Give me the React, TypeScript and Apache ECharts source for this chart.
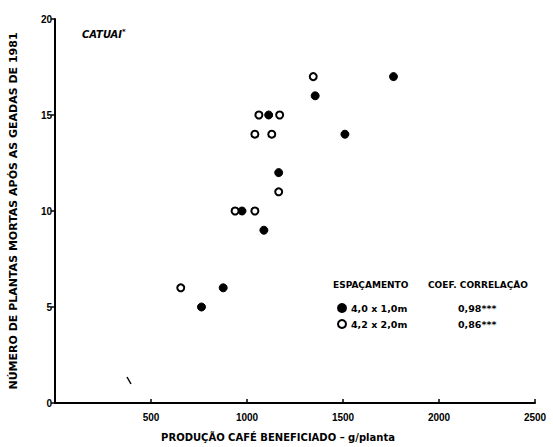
import React, { useEffect, useRef } from "react";
import * as echarts from "echarts";

const seriesNames = ["4,0 x 1,0m", "4,2 x 2,0m"];
const correlations = ["0,98***", "0,86***"];
// [production g/plant, dead plants]
const closeSpacing: [number, number][] = [
  [763, 5], [876, 6], [1088, 9], [974, 10], [1113, 15],
  [1165, 12], [1355, 16], [1510, 14], [1763, 17],
];
const wideSpacing: [number, number][] = [
  [655, 6], [938, 10], [1041, 10], [1062, 15], [1170, 15],
  [1041, 14], [1129, 14], [1165, 11], [1345, 17],
];
const xTitle = "PRODUÇÃO CAFÉ BENEFICIADO – g/planta";
const yTitle = "NÚMERO DE PLANTAS MORTAS APÓS AS GEADAS DE 1981";
const chartTitle = "CATUAI";
const legendHeader = "ESPAÇAMENTO";
const corrHeader = "COEF. CORRELAÇÃO";

const FONT = "'DejaVu Sans', 'Liberation Sans', Arial, sans-serif";
const FONT2 = "'Liberation Sans', Arial, sans-serif";

export default function App() {
  const ref = useRef<HTMLDivElement>(null);
  useEffect(() => {
    if (!ref.current) return;
    const chart = echarts.init(ref.current, null, { renderer: "svg" });
    chart.setOption({
      animation: false,
      backgroundColor: "#ffffff",
      textStyle: { fontFamily: FONT },
      grid: { left: 50, right: 18, top: 19, bottom: 42, containLabel: false },
      xAxis: {
        type: "value",
        min: 0,
        max: 2500,
        interval: 500,
        name: xTitle,
        nameLocation: "middle",
        nameGap: 29,
        nameTextStyle: {
          color: "#000",
          fontWeight: "bold",
          fontSize: 10,
          fontFamily: FONT,
          padding: [0, 34, 0, 0],
        },
        axisLine: { lineStyle: { color: "#000", width: 2 } },
        axisTick: { inside: true, length: 4, lineStyle: { color: "#000", width: 1.5 } },
        axisLabel: {
          color: "#000",
          fontWeight: "bold",
          fontSize: 10,
          margin: 9,
          fontFamily: FONT2,
          formatter: (v: number) => (v === 0 ? "" : String(v)),
        },
        splitLine: { show: false },
      },
      yAxis: {
        type: "value",
        min: 0,
        max: 20,
        interval: 5,
        name: yTitle,
        nameLocation: "middle",
        nameGap: 36,
        nameTextStyle: { color: "#000", fontWeight: "bold", fontSize: 11, fontFamily: FONT },
        axisLine: { lineStyle: { color: "#000", width: 2 } },
        axisTick: { inside: false, length: 4, lineStyle: { color: "#000", width: 1.5 } },
        axisLabel: { color: "#000", fontWeight: "bold", fontSize: 10, margin: 3, fontFamily: FONT2 },
        splitLine: { show: false },
      },
      legend: {
        orient: "vertical",
        left: 332,
        top: 298,
        itemWidth: 8,
        itemHeight: 8,
        itemGap: 6,
        icon: "circle",
        data: seriesNames,
        formatter: (name: string) => {
          const i = seriesNames.indexOf(name);
          return `{a|${name}}{b|${correlations[i]}}`;
        },
        textStyle: {
          color: "#000",
          fontWeight: "bold",
          fontSize: 9.5,
          fontFamily: FONT,
          rich: {
            a: { width: 107, color: "#000", fontWeight: "bold", fontSize: 9.5, fontFamily: FONT },
            b: { color: "#000", fontWeight: "bold", fontSize: 9.5, fontFamily: FONT },
          },
        },
      },
      graphic: [
        {
          type: "text",
          left: 82,
          top: 28,
          style: {
            text: "{t|" + chartTitle + "}{s|*}",
            rich: {
              t: { fontFamily: FONT, fontSize: 10, fontWeight: "bold", fontStyle: "italic", fill: "#000" },
              s: { fontFamily: FONT, fontSize: 7, fontWeight: "bold", fill: "#000", padding: [0, 0, 6, 0] },
            },
          },
        },
        {
          type: "text",
          left: 333,
          top: 280,
          style: { text: legendHeader, fontFamily: FONT, fontSize: 9, fontWeight: "bold", fill: "#000" },
        },
        {
          type: "text",
          left: 428,
          top: 280,
          style: { text: corrHeader, fontFamily: FONT, fontSize: 9, fontWeight: "bold", fill: "#000" },
        },
        {
          type: "line",
          shape: { x1: 127, y1: 377, x2: 131, y2: 384 },
          style: { stroke: "#000", lineWidth: 1.5 },
        },
      ],
      series: [
        {
          name: seriesNames[0],
          type: "scatter",
          data: closeSpacing,
          symbol: "circle",
          symbolSize: 8,
          itemStyle: { color: "#000", borderColor: "#000", borderWidth: 1, opacity: 1 },
        },
        {
          name: seriesNames[1],
          type: "scatter",
          data: wideSpacing,
          symbol: "circle",
          symbolSize: 7,
          itemStyle: { color: "#fff", borderColor: "#000", borderWidth: 2, opacity: 1 },
        },
      ],
    } as any);
    return () => chart.dispose();
  }, []);
  return (
    <div
      ref={ref}
      style={{ position: "absolute", left: 0, top: 0, width: 553, height: 447 }}
    />
  );
}
